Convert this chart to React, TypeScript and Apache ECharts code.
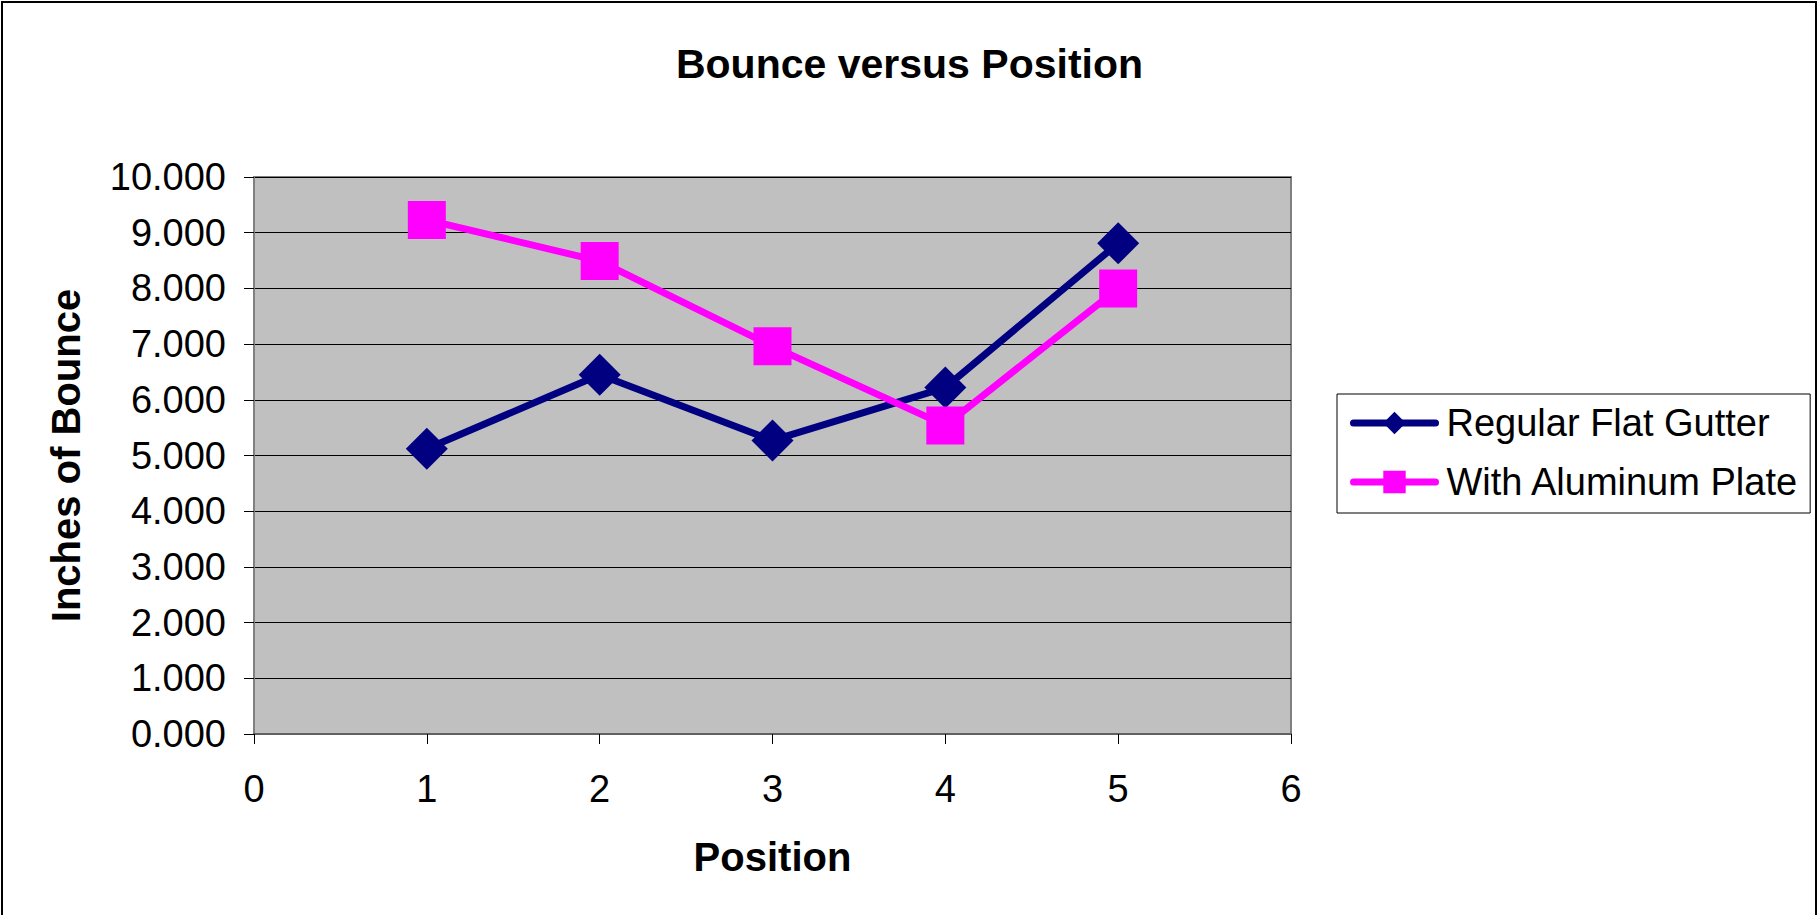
import React, { useEffect, useRef } from "react";
import * as echarts from "echarts";

// Measured bounce (inches) at each gutter position
const positions = [1, 2, 3, 4, 5];
const regularFlatGutter = [5.12, 6.45, 5.27, 6.22, 8.81];
const withAluminumPlate = [9.23, 8.49, 6.96, 5.54, 8.0];
const seriesNames = ["Regular Flat Gutter", "With Aluminum Plate"];

const FONT = "'Liberation Sans', Arial, Helvetica, sans-serif";

export default function App() {
  const ref = useRef<HTMLDivElement>(null);

  useEffect(() => {
    if (!ref.current) return;
    const chart = echarts.init(ref.current, null, { renderer: "svg" });

    const toPairs = (vals: number[]) => positions.map((p, i) => [p, vals[i]]);

    chart.setOption({
      animation: false,
      backgroundColor: "#ffffff",
      title: {
        text: "Bounce versus Position",
        left: "center",
        top: 43,
        padding: 0,
        textStyle: { fontFamily: FONT, fontSize: 41, fontWeight: "bold", color: "#000" },
      },
      grid: {
        left: 254,
        right: 528,
        top: 177,
        bottom: 181,
        show: true,
        backgroundColor: "#C0C0C0",
        borderColor: "#808080",
        borderWidth: 2,
      },
      legend: {
        orient: "vertical",
        left: 1337,
        top: 394,
        itemWidth: 82,
        itemHeight: 28,
        itemGap: 21,
        padding: [10, 11, 12, 13],
        borderColor: "#000",
        borderWidth: 1,
        backgroundColor: "#fff",
        lineStyle: { width: 7, cap: "round" },
        textStyle: { fontFamily: FONT, fontSize: 38, color: "#000", padding: [0, 0, 0, 6] },
        data: seriesNames,
      },
      xAxis: {
        type: "value",
        min: 0,
        max: 6,
        interval: 1,
        name: "Position",
        nameLocation: "middle",
        nameGap: 103,
        nameTextStyle: { fontFamily: FONT, fontSize: 40, fontWeight: "bold", color: "#000" },
        axisLine: { show: true, lineStyle: { color: "#606060", width: 2 } },
        axisTick: { show: true, inside: false, length: 10, lineStyle: { color: "#000", width: 1 } },
        axisLabel: { fontFamily: FONT, fontSize: 38, color: "#000", margin: 36 },
        splitLine: { show: false },
      },
      yAxis: {
        type: "value",
        min: 0,
        max: 10,
        interval: 1,
        name: "Inches of Bounce",
        nameLocation: "middle",
        nameRotate: 90,
        nameGap: 168,
        nameTextStyle: { fontFamily: FONT, fontSize: 40, fontWeight: "bold", color: "#000" },
        axisLine: { show: true, lineStyle: { color: "#808080", width: 2 } },
        axisTick: { show: true, inside: false, length: 10, lineStyle: { color: "#000", width: 1 } },
        axisLabel: {
          fontFamily: FONT,
          fontSize: 38,
          color: "#000",
          margin: 28,
          formatter: (v: number) => v.toFixed(3),
        },
        splitLine: { show: true, lineStyle: { color: "#000", width: 1 } },
      },
      graphic: [
        {
          type: "rect",
          silent: true,
          z: 100,
          shape: { x: 2, y: 2, width: 1814, height: 960 },
          style: { fill: "none", stroke: "#000", lineWidth: 2 },
        },
      ],
      series: [
        {
          name: seriesNames[0],
          type: "line",
          data: toPairs(regularFlatGutter),
          symbol: "diamond",
          symbolSize: [42, 42],
          lineStyle: { color: "#000080", width: 7 },
          itemStyle: { color: "#000080" },
        },
        {
          name: seriesNames[1],
          type: "line",
          data: toPairs(withAluminumPlate),
          symbol: "rect",
          symbolSize: 38,
          lineStyle: { color: "#FF00FF", width: 7 },
          itemStyle: { color: "#FF00FF" },
        },
      ],
    });

    return () => chart.dispose();
  }, []);

  return (
    <div
      ref={ref}
      style={{ position: "absolute", left: 0, top: 0, width: 1819, height: 915 }}
    />
  );
}
